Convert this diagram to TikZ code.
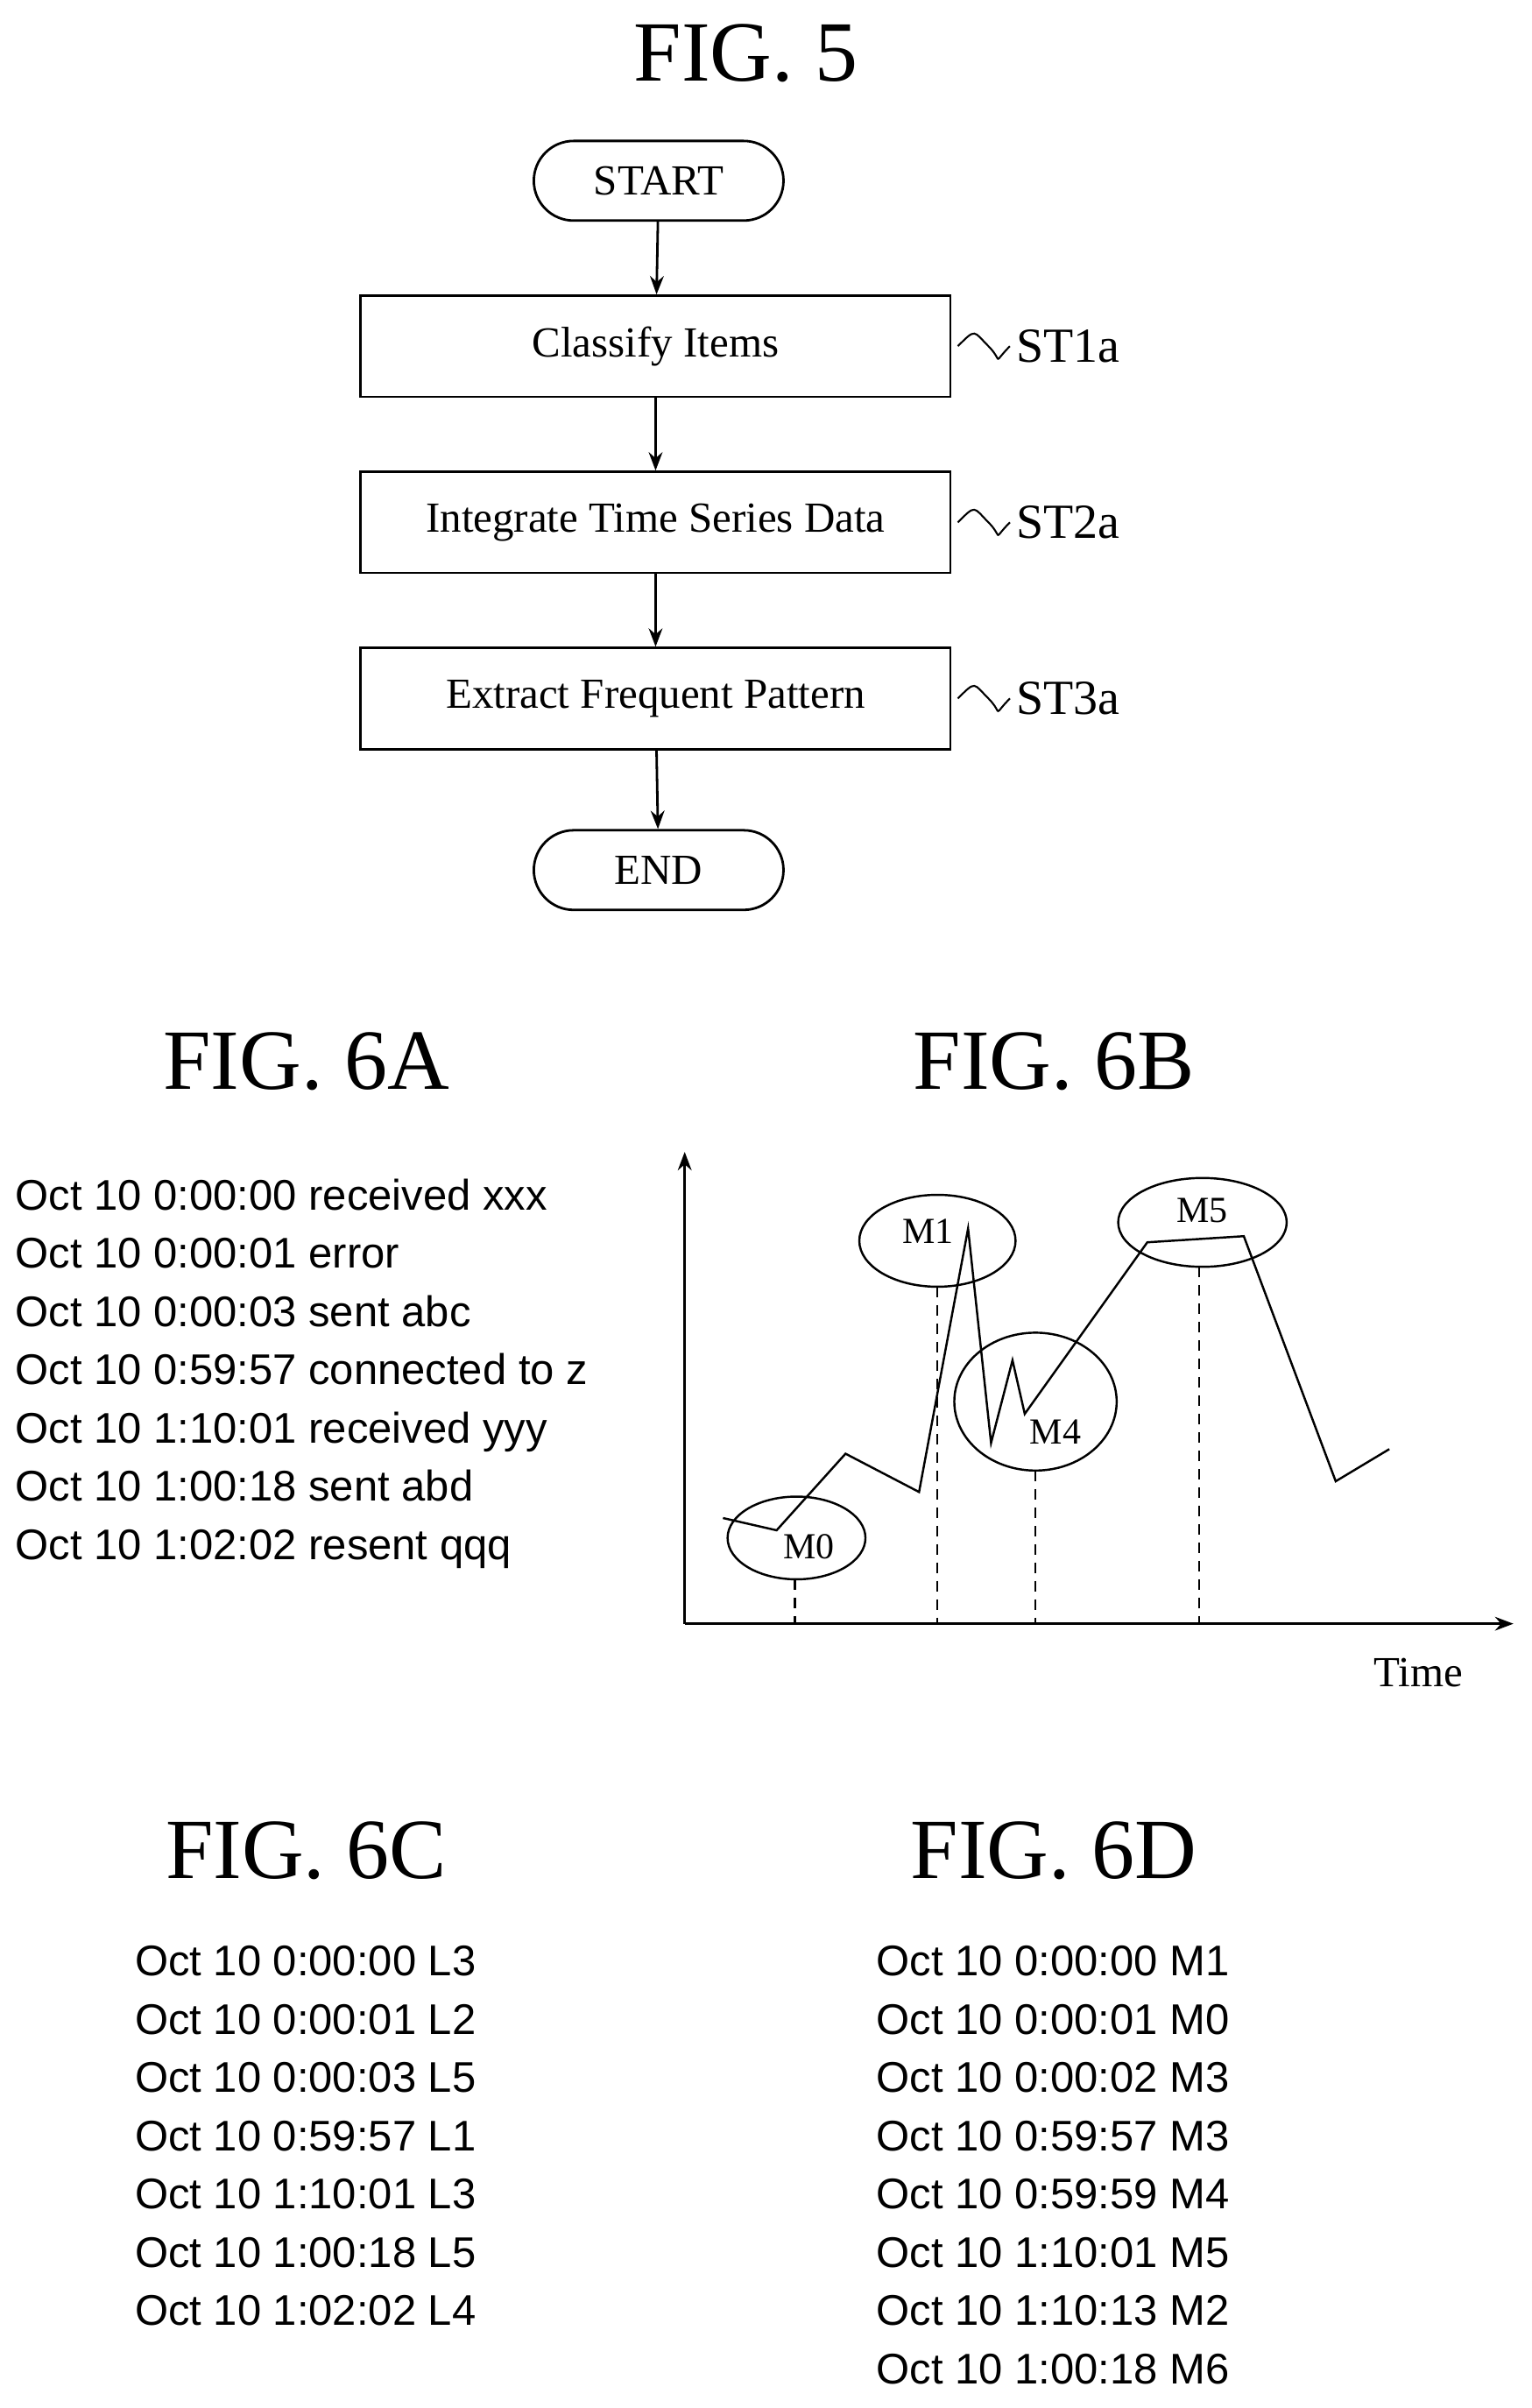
\documentclass[tikz,border=0pt]{standalone}
\usepackage{fontspec}
\setmainfont{Liberation Serif}
\newfontfamily\lsans{Liberation Sans}
\usetikzlibrary{arrows.meta}
\begin{document}
\begin{tikzpicture}[x=1pt,y=-1pt,line width=1.6pt,
  box/.style={draw,minimum width=385pt,minimum height=66pt,font=\fontsize{28}{32}\selectfont},
  pill/.style={draw,rounded corners=26pt,minimum width=163pt,minimum height=52pt,font=\fontsize{28}{32}\selectfont},
  arr/.style={-{Stealth[length=12pt,width=9pt]}},
  title/.style={font=\fontsize{56}{62}\selectfont},
  log/.style={anchor=west,font=\lsans\fontsize{28}{32}\selectfont},
  lbl/.style={font=\fontsize{32}{36}\selectfont},
  ml/.style={font=\fontsize{24}{28}\selectfont}]
\useasboundingbox (0,0) rectangle (1000,1572);
\node[title] (f5) at (487,35) {FIG. 5};
\node[pill] (start) at (430,118) {START};
\node[box] (b1) at (428,226) {Classify Items};
\node[box] (b2) at (428,341) {Integrate Time Series Data};
\node[box] (b3) at (428,456) {Extract Frequent Pattern};
\node[pill] (end) at (430,568) {END};
\draw[arr] (start) -- (b1);
\draw[arr] (b1) -- (b2);
\draw[arr] (b2) -- (b3);
\draw[arr] (b3) -- (end);
\foreach \b/\t in {b1/ST1a,b2/ST2a,b3/ST3a}{
  \node[lbl,anchor=west] (l\b) at ([xshift=38pt]\b.east) {\t};
  \draw[line width=1.2pt] ([xshift=4pt]\b.east) .. controls +(12,-12) and +(-10,-10) .. +(20,0) .. controls +(10,10) and +(-12,12) .. (l\b.west);
}
\node[title] (f6a) at (200,693) {FIG. 6A};
\node[title] (f6b) at (688,693) {FIG. 6B};
\foreach \i/\t in {0/Oct 10 0:00:00 received xxx,1/Oct 10 0:00:01 error,2/Oct 10 0:00:03 sent abc,3/Oct 10 0:59:57 connected to z,4/Oct 10 1:10:01 received yyy,5/Oct 10 1:00:18 sent abd,6/Oct 10 1:02:02 resent qqq}
  \node[log,anchor=base west] (a\i) at (6,790+38*\i) {\t};
% graph
\coordinate (o) at (447,1060);
\coordinate (yt) at (447,752);
\coordinate (xt) at (988,1060);
\draw[arr] (o) -- (yt);
\draw[arr] (o) -- (xt);
\node[font=\fontsize{28}{32}\selectfont] (time) at (926,1092) {Time};
\draw[line width=1.4pt] (472,991) -- (507,999) -- (552,949) -- (600,974) -- (632,802) -- (647,942) -- (661,888) -- (669,923) -- (749,811) -- (812,807) -- (872,967) -- (907,946);
\draw[line width=1.4pt] (520,1004) ellipse (45 and 27);
\draw[line width=1.4pt] (612,810) ellipse (51 and 30);
\draw[line width=1.4pt] (676,915) ellipse (53 and 45);
\draw[line width=1.4pt] (785,798) ellipse (55 and 29);
\draw[line width=1.4pt,dash pattern=on 7pt off 5pt] (519,1031) -- (519,1060);
\draw[line width=1.4pt,dash pattern=on 7pt off 5pt] (612,840) -- (612,1060);
\draw[line width=1.4pt,dash pattern=on 7pt off 5pt] (676,960) -- (676,1060);
\draw[line width=1.4pt,dash pattern=on 7pt off 5pt] (783,827) -- (783,1060);
\node[ml] (m0) at (528,1010) {M0};
\node[ml] (m1) at (606,804) {M1};
\node[ml] (m4) at (689,935) {M4};
\node[ml] (m5) at (785,790) {M5};
\node[title] (f6c) at (200,1208) {FIG. 6C};
\node[title] (f6d) at (688,1208) {FIG. 6D};
\foreach \i/\t in {0/Oct 10 0:00:00 L3,1/Oct 10 0:00:01 L2,2/Oct 10 0:00:03 L5,3/Oct 10 0:59:57 L1,4/Oct 10 1:10:01 L3,5/Oct 10 1:00:18 L5,6/Oct 10 1:02:02 L4}
  \node[log,anchor=base west] (c\i) at (84,1290+38*\i) {\t};
\foreach \i/\t in {0/Oct 10 0:00:00 M1,1/Oct 10 0:00:01 M0,2/Oct 10 0:00:02 M3,3/Oct 10 0:59:57 M3,4/Oct 10 0:59:59 M4,5/Oct 10 1:10:01 M5,6/Oct 10 1:10:13 M2,7/Oct 10 1:00:18 M6}
  \node[log,anchor=base west] (d\i) at (568,1290+38*\i) {\t};
\end{tikzpicture}
\end{document}
